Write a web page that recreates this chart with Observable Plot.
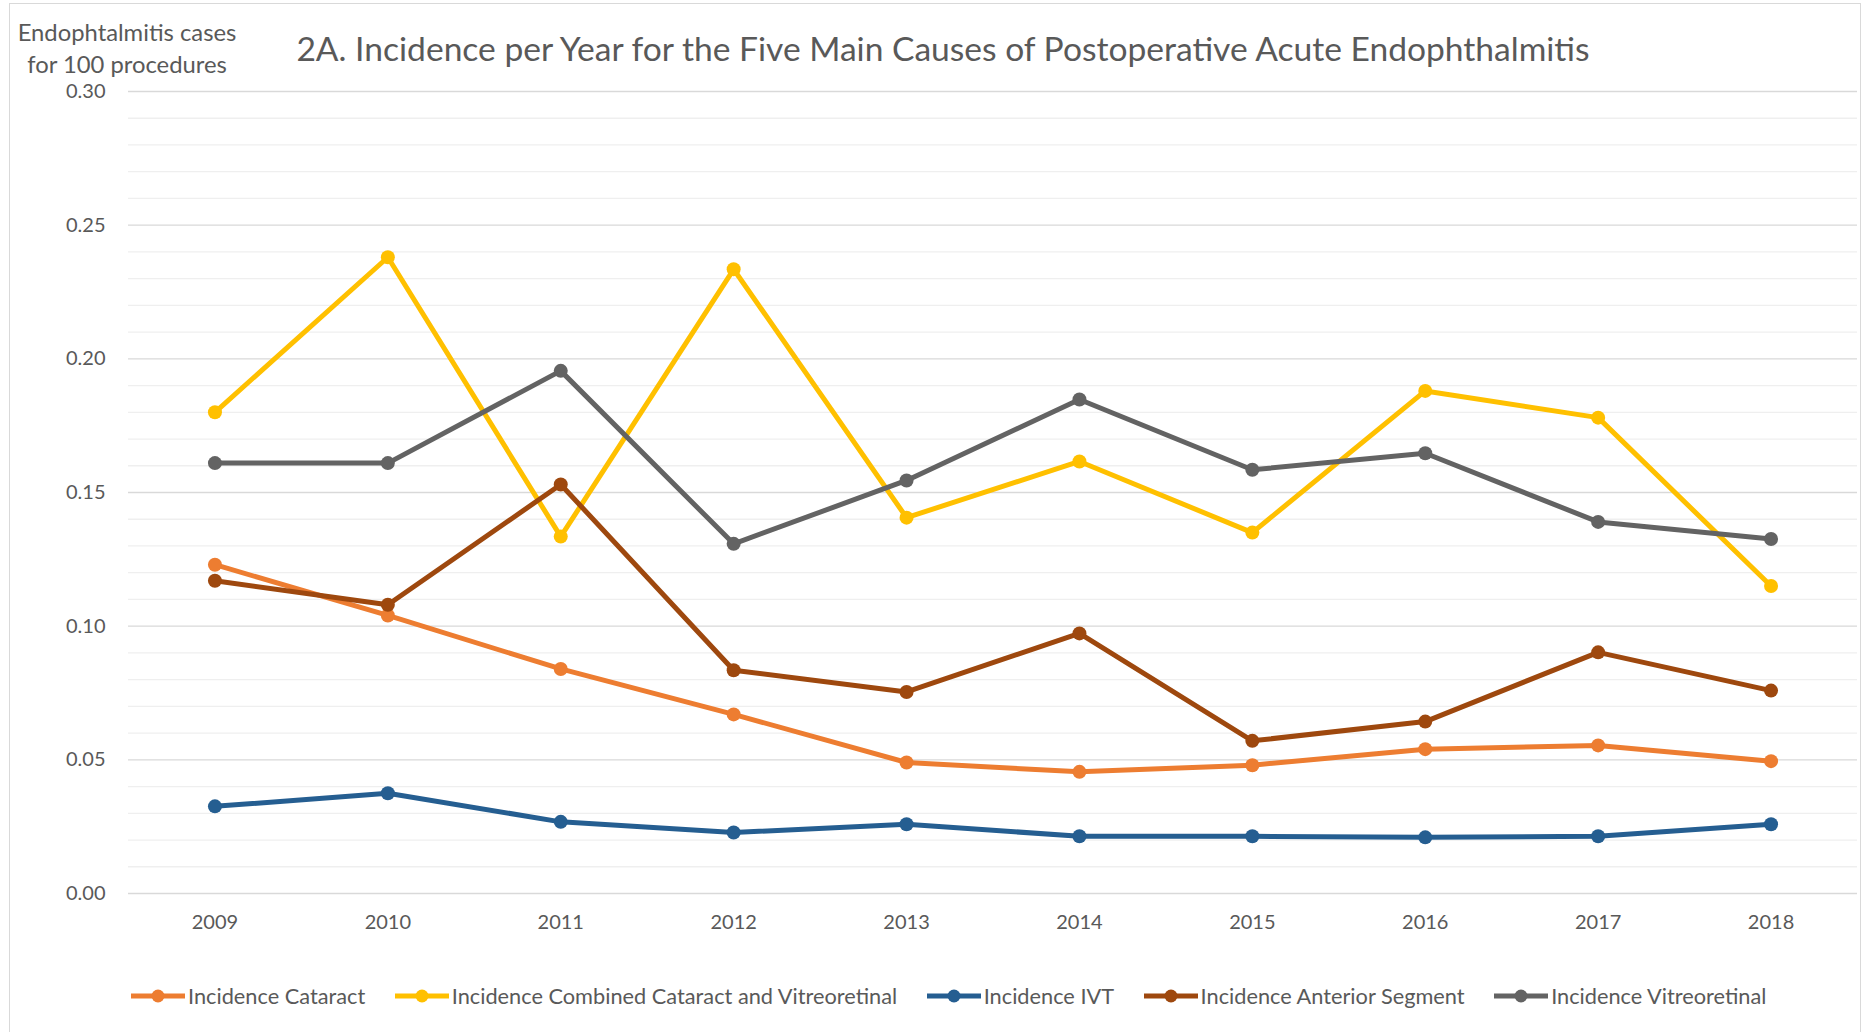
<!DOCTYPE html>
<html>
<head>
<meta charset="utf-8">
<script src="https://cdn.jsdelivr.net/npm/d3@7"></script>
<script src="https://cdn.jsdelivr.net/npm/@observablehq/plot@0.6"></script>
<style>
  body { margin: 0; background: #fff; }
  #wrap { position: relative; width: 1872px; height: 1032px; overflow: hidden;
          font-family: Lato, "Open Sans", sans-serif; color: #595959; }
  #frame { position: absolute; left: 9px; top: 3px; width: 1852px; height: 1060px;
           border: 1px solid #d9d9d9; box-sizing: border-box; }
  #title { position: absolute; top: 26px; left: 0; width: 1886px; text-align: center;
           font-size: 33.6px; line-height: 44px; white-space: nowrap; }
  #ylab { position: absolute; top: 16px; left: 7px; width: 240px; text-align: center;
          font-size: 23.8px; line-height: 32px; white-space: nowrap; }
  #chart { position: absolute; top: 60px; left: 0; }
  #legend { position: absolute; top: 983px; left: 131px; display: flex; align-items: center;
            font-size: 21.75px; line-height: 26px; white-space: nowrap; }
  .item { display: flex; align-items: center; margin-right: 29.5px; }
  .item svg { margin-right: 3px; }
</style>
</head>
<body>
<div id="wrap">
  <div id="frame"></div>
  <div id="ylab">Endophtalmitis cases<br>for 100 procedures</div>
  <div id="title">2A. Incidence per Year for the Five Main Causes of Postoperative Acute Endophthalmitis</div>
  <div id="chart"></div>
  <div id="legend"></div>
</div>
<script>
// ---- data ----
const years = ["2009", "2010", "2011", "2012", "2013", "2014", "2015", "2016", "2017", "2018"];
const seriesNames = [
  "Incidence Cataract",
  "Incidence Combined Cataract and Vitreoretinal",
  "Incidence IVT",
  "Incidence Anterior Segment",
  "Incidence Vitreoretinal"
];
const cataract      = [0.123, 0.104, 0.084, 0.067, 0.049, 0.0455, 0.048, 0.054, 0.0554, 0.0495];
const combined      = [0.180, 0.238, 0.1335, 0.2335, 0.1406, 0.1616, 0.135, 0.188, 0.178, 0.115];
const ivt           = [0.0326, 0.0375, 0.0268, 0.0228, 0.0259, 0.0214, 0.0214, 0.021, 0.0214, 0.0259];
const anterior      = [0.117, 0.108, 0.153, 0.0835, 0.0754, 0.0973, 0.0571, 0.0643, 0.0902, 0.0759];
const vitreoretinal = [0.161, 0.161, 0.1955, 0.1308, 0.1545, 0.1848, 0.1585, 0.1647, 0.139, 0.1326];
const yTicks = [0, 0.05, 0.10, 0.15, 0.20, 0.25, 0.30];
const colors = ["#ED7D31", "#FFC000", "#255E91", "#9E480E", "#636363"];

// ---- build ----
const valueArrays = [cataract, combined, ivt, anterior, vitreoretinal];
const table = seriesNames.map((name, k) =>
  years.map((yr, i) => ({ series: name, year: yr, value: valueArrays[k][i] })));
const minorTicks = d3.range(1, 30).map(i => i / 100).filter((_, i) => (i + 1) % 5 !== 0);

const marks = [
  Plot.ruleY(minorTicks, { stroke: "#efefef", strokeWidth: 1.3 }),
  Plot.ruleY(yTicks, { stroke: "#d9d9d9", strokeWidth: 1.3 }),
  Plot.axisY(yTicks, { tickSize: 0, tickPadding: 23, tickFormat: d3.format(".2f"), fontSize: 20 }),
  Plot.axisX({ tickSize: 0, tickPadding: 21, fontSize: 20 })
];
table.forEach(rows => {
  marks.push(Plot.line(rows, { x: "year", y: "value", stroke: "series", strokeWidth: 5 }));
  marks.push(Plot.dot(rows, { x: "year", y: "value", fill: "series", r: 7 }));
});

const chart = Plot.plot({
  width: 1872,
  height: 900,
  marginLeft: 128,
  marginRight: 15,
  marginTop: 31,
  marginBottom: 67,
  style: { fontFamily: "Lato, 'Open Sans', sans-serif", color: "#595959", background: "transparent", overflow: "visible" },
  x: { type: "point", domain: years, padding: 0.5, round: false, label: null },
  y: { domain: [0, 0.30], label: null },
  color: { domain: seriesNames, range: colors },
  marks
});
document.getElementById("chart").appendChild(chart);

// ---- legend ----
const legend = d3.select("#legend");
seriesNames.forEach((name, k) => {
  const item = legend.append("div").attr("class", "item");
  const svg = item.append("svg").attr("width", 54).attr("height", 20);
  svg.append("line").attr("x1", 0).attr("x2", 54).attr("y1", 10).attr("y2", 10)
     .attr("stroke", colors[k]).attr("stroke-width", 5);
  svg.append("circle").attr("cx", 27).attr("cy", 10).attr("r", 6.5).attr("fill", colors[k]);
  item.append("span").text(name);
});
</script>
</body>
</html>
